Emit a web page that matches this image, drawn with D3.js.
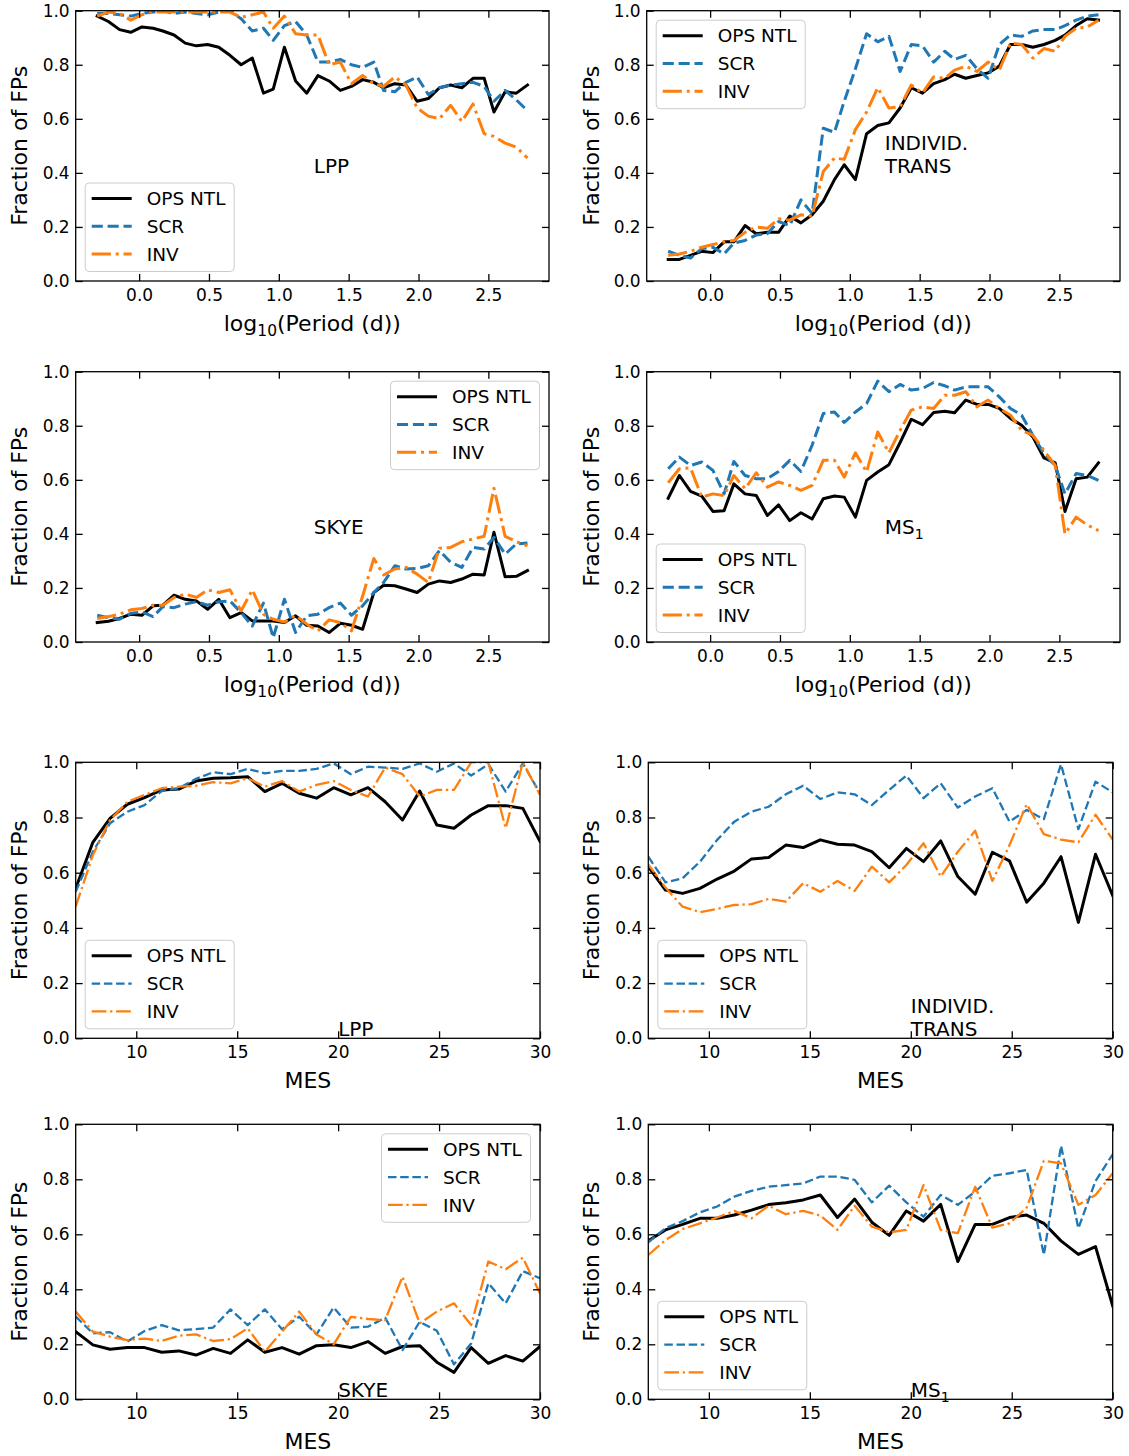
<!DOCTYPE html>
<html>
<head>
<meta charset="utf-8">
<script src="https://cdnjs.cloudflare.com/ajax/libs/d3/7.8.5/d3.min.js"></script>
<style>
body { margin: 0; background: #fff; }
svg { display: block; }
text { font-family: "DejaVu Sans", sans-serif; }
</style>
</head>
<body>
<script>
// bin centres
var logP = [-0.30, -0.22, -0.14, -0.06, 0.02, 0.10, 0.17, 0.25, 0.33, 0.41,
            0.49, 0.57, 0.65, 0.73, 0.81, 0.89, 0.96, 1.04, 1.12, 1.20,
            1.28, 1.36, 1.44, 1.52, 1.60, 1.68, 1.75, 1.83, 1.91, 1.99,
            2.07, 2.15, 2.23, 2.31, 2.39, 2.47, 2.54, 2.62, 2.70, 2.78];
var mes = [7.00, 7.85, 8.70, 9.56, 10.41, 11.26, 12.11, 12.96, 13.81, 14.67,
           15.52, 16.37, 17.22, 18.07, 18.93, 19.78, 20.63, 21.48, 22.33, 23.19,
           24.04, 24.89, 25.74, 26.59, 27.44, 28.30, 29.15, 30.00];

var seriesNames = ["OPS NTL", "SCR", "INV"];
var yTicks = [0, 0.2, 0.4, 0.6, 0.8, 1.0];
var periodTicks = [0, 0.5, 1.0, 1.5, 2.0, 2.5];
var mesTicks = [10, 15, 20, 25, 30];

// fraction of FPs vs log10(period)
var lppP_ops = [0.98,0.96,0.93,0.92,0.94,0.935,0.925,0.91,0.88,0.87,0.875,0.865,0.835,0.80,0.825,0.695,0.71,0.865,0.74,0.695,0.76,0.74,0.705,0.72,0.745,0.735,0.715,0.73,0.725,0.665,0.675,0.715,0.725,0.715,0.75,0.75,0.625,0.70,0.695,0.725];
var lppP_scr = [0.99,0.99,0.985,0.98,0.99,0.995,1.0,0.99,0.995,0.99,0.985,0.995,1.0,0.97,0.925,0.935,0.89,0.945,0.96,0.91,0.81,0.81,0.82,0.80,0.79,0.81,0.705,0.70,0.735,0.755,0.69,0.715,0.725,0.73,0.735,0.72,0.665,0.705,0.67,0.63];
var lppP_inv = [0.98,0.995,0.99,0.965,0.985,0.995,0.995,0.995,0.995,0.995,0.995,0.995,0.995,0.975,0.985,0.995,0.935,0.98,0.915,0.91,0.91,0.80,0.81,0.73,0.76,0.73,0.72,0.755,0.725,0.64,0.61,0.60,0.65,0.59,0.655,0.545,0.535,0.51,0.495,0.455];

var itP_ops = [0.08,0.08,0.095,0.11,0.105,0.145,0.145,0.205,0.175,0.18,0.18,0.24,0.215,0.245,0.295,0.375,0.43,0.375,0.545,0.575,0.585,0.64,0.715,0.695,0.73,0.745,0.765,0.75,0.76,0.77,0.795,0.875,0.875,0.865,0.875,0.89,0.91,0.945,0.97,0.965];
var itP_scr = [0.11,0.095,0.085,0.12,0.125,0.10,0.14,0.15,0.17,0.175,0.22,0.205,0.30,0.25,0.565,0.55,0.665,0.785,0.915,0.885,0.905,0.775,0.875,0.87,0.81,0.85,0.82,0.835,0.785,0.75,0.875,0.91,0.905,0.925,0.93,0.93,0.945,0.965,0.98,0.985];
var itP_inv = [0.095,0.10,0.11,0.125,0.135,0.145,0.15,0.18,0.20,0.195,0.23,0.225,0.245,0.24,0.405,0.455,0.45,0.56,0.625,0.715,0.64,0.645,0.725,0.695,0.755,0.75,0.78,0.795,0.775,0.81,0.78,0.88,0.875,0.825,0.86,0.85,0.905,0.935,0.94,0.965];

var skyeP_ops = [0.072,0.077,0.087,0.103,0.099,0.134,0.136,0.173,0.158,0.152,0.121,0.158,0.09,0.109,0.078,0.078,0.078,0.072,0.097,0.062,0.059,0.035,0.069,0.062,0.047,0.183,0.21,0.208,0.196,0.183,0.214,0.226,0.22,0.233,0.251,0.248,0.406,0.241,0.243,0.264];
var skyeP_scr = [0.099,0.09,0.084,0.106,0.111,0.094,0.131,0.127,0.14,0.149,0.136,0.149,0.152,0.109,0.059,0.144,0.016,0.158,0.035,0.097,0.103,0.127,0.144,0.099,0.134,0.183,0.22,0.282,0.27,0.272,0.282,0.338,0.295,0.276,0.35,0.344,0.387,0.325,0.363,0.366];
var skyeP_inv = [0.087,0.094,0.103,0.119,0.124,0.136,0.136,0.165,0.177,0.165,0.193,0.183,0.193,0.115,0.193,0.103,0.084,0.074,0.099,0.066,0.041,0.082,0.072,0.041,0.17,0.309,0.248,0.27,0.276,0.251,0.22,0.347,0.35,0.371,0.381,0.391,0.569,0.391,0.371,0.356];

var ms1P_ops = [0.532,0.616,0.557,0.54,0.483,0.486,0.585,0.548,0.542,0.468,0.507,0.449,0.478,0.455,0.53,0.54,0.536,0.462,0.598,0.629,0.656,0.738,0.824,0.804,0.849,0.854,0.848,0.895,0.879,0.879,0.864,0.827,0.802,0.759,0.681,0.663,0.483,0.604,0.61,0.663];
var ms1P_scr = [0.641,0.684,0.653,0.666,0.635,0.548,0.668,0.616,0.604,0.604,0.631,0.672,0.631,0.728,0.845,0.851,0.812,0.851,0.882,0.965,0.926,0.953,0.932,0.938,0.96,0.948,0.932,0.944,0.944,0.944,0.907,0.864,0.839,0.765,0.697,0.653,0.548,0.623,0.616,0.598];
var ms1P_inv = [0.589,0.641,0.644,0.536,0.548,0.542,0.616,0.567,0.626,0.573,0.592,0.579,0.561,0.579,0.672,0.672,0.61,0.70,0.629,0.777,0.70,0.783,0.858,0.87,0.864,0.913,0.913,0.926,0.87,0.895,0.864,0.839,0.783,0.765,0.709,0.653,0.40,0.462,0.433,0.412];

// fraction of FPs vs MES
var lppM_ops = [0.543,0.71,0.797,0.848,0.872,0.90,0.903,0.932,0.942,0.944,0.948,0.894,0.924,0.888,0.87,0.908,0.882,0.908,0.857,0.791,0.896,0.773,0.761,0.809,0.843,0.843,0.833,0.713];
var lppM_scr = [0.531,0.676,0.779,0.821,0.845,0.896,0.906,0.94,0.964,0.957,0.976,0.96,0.969,0.969,0.976,0.996,0.957,0.984,0.981,0.976,0.996,0.966,0.996,0.952,0.993,0.894,0.996,0.888];
var lppM_inv = [0.477,0.664,0.791,0.857,0.882,0.906,0.912,0.915,0.928,0.924,0.942,0.912,0.932,0.894,0.918,0.932,0.90,0.876,0.981,0.957,0.876,0.90,0.90,1.0,1.0,0.761,1.0,0.882];

var itM_ops = [0.622,0.537,0.525,0.543,0.577,0.606,0.65,0.655,0.70,0.691,0.719,0.703,0.70,0.676,0.618,0.688,0.64,0.715,0.586,0.522,0.674,0.643,0.493,0.562,0.658,0.42,0.667,0.517];
var itM_scr = [0.658,0.565,0.58,0.64,0.719,0.785,0.821,0.839,0.884,0.915,0.867,0.891,0.884,0.845,0.90,0.952,0.87,0.924,0.836,0.876,0.906,0.785,0.827,0.794,0.993,0.758,0.93,0.891];
var itM_inv = [0.63,0.546,0.477,0.457,0.469,0.483,0.486,0.505,0.495,0.562,0.531,0.57,0.534,0.622,0.565,0.628,0.707,0.586,0.676,0.752,0.57,0.70,0.848,0.74,0.72,0.71,0.81,0.72];

var skyeM_ops = [0.246,0.198,0.182,0.188,0.188,0.171,0.176,0.161,0.185,0.167,0.216,0.171,0.188,0.164,0.195,0.198,0.188,0.21,0.167,0.192,0.195,0.135,0.098,0.188,0.131,0.159,0.139,0.192];
var skyeM_scr = [0.301,0.24,0.244,0.21,0.248,0.27,0.251,0.255,0.261,0.327,0.27,0.327,0.255,0.30,0.236,0.334,0.261,0.264,0.297,0.179,0.282,0.249,0.127,0.203,0.422,0.349,0.466,0.44];
var skyeM_inv = [0.319,0.246,0.228,0.215,0.221,0.212,0.231,0.236,0.212,0.219,0.258,0.173,0.246,0.319,0.236,0.2,0.3,0.292,0.288,0.446,0.276,0.319,0.349,0.27,0.501,0.473,0.515,0.385];

var ms1M_ops = [0.576,0.616,0.636,0.658,0.658,0.67,0.688,0.708,0.715,0.725,0.743,0.661,0.728,0.644,0.596,0.685,0.648,0.709,0.501,0.636,0.636,0.661,0.67,0.64,0.576,0.527,0.555,0.34];
var ms1M_scr = [0.571,0.622,0.648,0.68,0.701,0.737,0.758,0.773,0.779,0.785,0.81,0.81,0.798,0.716,0.777,0.716,0.664,0.743,0.707,0.755,0.813,0.822,0.834,0.525,0.922,0.622,0.794,0.891];
var ms1M_inv = [0.525,0.579,0.619,0.64,0.661,0.685,0.658,0.704,0.673,0.685,0.668,0.616,0.704,0.628,0.607,0.616,0.779,0.616,0.604,0.773,0.624,0.64,0.697,0.867,0.858,0.707,0.743,0.822];

var colors = ["#000000", "#1f77b4", "#ff7f0e"];

var svg = d3.select("body").append("svg")
    .attr("width", 1129)
    .attr("height", 1456);

// matplotlib style dash patterns, scaled by line width
function dashFor(k, lw) {
  if (k == 1) return [3.7 * lw, 1.6 * lw].join(",");
  if (k == 2) return [6.4 * lw, 1.6 * lw, 1 * lw, 1.6 * lw].join(",");
  return null;
}

var periodDomain = [-0.454, 2.934];
var mesDomain = [7, 30];

var panels = [
  {left: 75.7, right: 549, top: 10.7, bottom: 281, xs: logP, xDomain: periodDomain, xTicks: periodTicks, fmt: d3.format(".1f"), xlab: "period",
   data: [lppP_ops, lppP_scr, lppP_inv], lw: 3, legend: "lower left", note: ["LPP"], noteAt: [1.25, 0.4]},
  {left: 646.7, right: 1120, top: 10.7, bottom: 281, xs: logP, xDomain: periodDomain, xTicks: periodTicks, fmt: d3.format(".1f"), xlab: "period",
   data: [itP_ops, itP_scr, itP_inv], lw: 3, legend: "upper left", note: ["INDIVID.", "TRANS"], noteAt: [1.25, 0.4]},
  {left: 75.7, right: 549, top: 371.7, bottom: 642, xs: logP, xDomain: periodDomain, xTicks: periodTicks, fmt: d3.format(".1f"), xlab: "period",
   data: [skyeP_ops, skyeP_scr, skyeP_inv], lw: 3, legend: "upper right", note: ["SKYE"], noteAt: [1.25, 0.4]},
  {left: 646.7, right: 1120, top: 371.7, bottom: 642, xs: logP, xDomain: periodDomain, xTicks: periodTicks, fmt: d3.format(".1f"), xlab: "period",
   data: [ms1P_ops, ms1P_scr, ms1P_inv], lw: 3, legend: "lower left", note: ["MS"], sub: "1", noteAt: [1.25, 0.4]},
  {left: 75.7, right: 540, top: 762.3, bottom: 1038.3, xs: mes, xDomain: mesDomain, xTicks: mesTicks, fmt: d3.format("d"), xlab: "MES",
   data: [lppM_ops, lppM_scr, lppM_inv], lw: 2.3, legend: "lower left", note: ["LPP"], noteAt: [20, 0.01]},
  {left: 648.3, right: 1112.7, top: 762.3, bottom: 1038.3, xs: mes, xDomain: mesDomain, xTicks: mesTicks, fmt: d3.format("d"), xlab: "MES",
   data: [itM_ops, itM_scr, itM_inv], lw: 2.3, legend: "lower left", note: ["INDIVID.", "TRANS"], noteAt: [20, 0.01]},
  {left: 75.7, right: 540, top: 1124.3, bottom: 1399.3, xs: mes, xDomain: mesDomain, xTicks: mesTicks, fmt: d3.format("d"), xlab: "MES",
   data: [skyeM_ops, skyeM_scr, skyeM_inv], lw: 2.3, legend: "upper right", note: ["SKYE"], noteAt: [20, 0.01]},
  {left: 648.3, right: 1112.7, top: 1124.3, bottom: 1399.3, xs: mes, xDomain: mesDomain, xTicks: mesTicks, fmt: d3.format("d"), xlab: "MES",
   data: [ms1M_ops, ms1M_scr, ms1M_inv], lw: 2.3, legend: "lower left", note: ["MS"], sub: "1", noteAt: [20, 0.01]}
];

panels.forEach(function(p, n) {
  var x = d3.scaleLinear().domain(p.xDomain).range([p.left, p.right]);
  var y = d3.scaleLinear().domain([0, 1]).range([p.bottom, p.top]);
  var g = svg.append("g");

  var clipId = "clip" + n;
  svg.append("clipPath").attr("id", clipId)
    .append("rect")
      .attr("x", p.left).attr("y", p.top)
      .attr("width", p.right - p.left).attr("height", p.bottom - p.top);

  // the three curves
  var line = d3.line()
    .x(function(d, i) { return x(p.xs[i]); })
    .y(function(d) { return y(d); });
  p.data.forEach(function(vals, k) {
    g.append("path")
      .datum(vals)
      .attr("d", line)
      .attr("clip-path", "url(#" + clipId + ")")
      .attr("fill", "none")
      .attr("stroke", colors[k])
      .attr("stroke-width", k == 0 ? 3 : p.lw)
      .attr("stroke-dasharray", dashFor(k, p.lw))
      .attr("stroke-linejoin", "round")
      .attr("stroke-linecap", k == 0 ? "square" : "butt");
  });

  // axes, ticks pointing in on all four sides
  var axes = [
    g.append("g").attr("transform", "translate(0," + p.bottom + ")")
      .call(d3.axisBottom(x).tickValues(p.xTicks).tickFormat(p.fmt).tickSizeInner(-7).tickSizeOuter(0).tickPadding(8)),
    g.append("g").attr("transform", "translate(0," + p.top + ")")
      .call(d3.axisTop(x).tickValues(p.xTicks).tickFormat("").tickSizeInner(-7).tickSizeOuter(0)),
    g.append("g").attr("transform", "translate(" + p.left + ",0)")
      .call(d3.axisLeft(y).tickValues(yTicks).tickFormat(d3.format(".1f")).tickSizeInner(-7).tickSizeOuter(0).tickPadding(6)),
    g.append("g").attr("transform", "translate(" + p.right + ",0)")
      .call(d3.axisRight(y).tickValues(yTicks).tickFormat("").tickSizeInner(-7).tickSizeOuter(0))
  ];
  axes.forEach(function(a) {
    a.attr("font-size", 17).attr("font-family", "DejaVu Sans, sans-serif");
    a.select(".domain").remove();
    a.selectAll(".tick line").attr("stroke-width", 1.3);
    a.selectAll(".tick text").attr("fill", "#000");
  });

  g.append("rect")
    .attr("x", p.left).attr("y", p.top)
    .attr("width", p.right - p.left).attr("height", p.bottom - p.top)
    .attr("fill", "none")
    .attr("stroke", "#000")
    .attr("stroke-width", 1.3);

  // x label
  var xl = g.append("text")
    .attr("x", (p.left + p.right) / 2)
    .attr("y", p.bottom + 50)
    .attr("text-anchor", "middle")
    .style("font-size", "22px");
  if (p.xlab == "period") {
    xl.append("tspan").text("log");
    xl.append("tspan").attr("dy", 5).style("font-size", "15.5px").text("10");
    xl.append("tspan").attr("dy", -5).text("(Period (d))");
  } else {
    xl.text(p.xlab);
  }

  // y label
  var ylx = p.left < 300 ? 27 : 599;
  g.append("text")
    .attr("transform", "translate(" + ylx + "," + ((p.top + p.bottom) / 2) + ") rotate(-90)")
    .attr("text-anchor", "middle")
    .style("font-size", "22px")
    .text("Fraction of FPs");

  // panel name
  var nx = x(p.noteAt[0]), ny = y(p.noteAt[1]);
  p.note.forEach(function(s, i) {
    var t = g.append("text")
      .attr("x", nx)
      .attr("y", ny - (p.note.length - 1 - i) * 23)
      .style("font-size", "20px")
      .text(s);
    if (p.sub) {
      t.append("tspan").attr("dy", 5).style("font-size", "14px").text(p.sub);
    }
  });

  // legend
  var lw = 149, lh = 88.5, off = 9.5;
  var lx = p.legend.indexOf("right") >= 0 ? p.right - off - lw : p.left + off;
  var ly = p.legend.indexOf("upper") >= 0 ? p.top + off : p.bottom - off - lh;
  var leg = g.append("g");
  leg.append("rect")
    .attr("x", lx).attr("y", ly)
    .attr("width", lw).attr("height", lh)
    .attr("rx", 4)
    .attr("fill", "#fff")
    .attr("fill-opacity", 0.8)
    .attr("stroke", "#cccccc")
    .attr("stroke-width", 1);
  seriesNames.forEach(function(name, k) {
    var yy = ly + 15.5 + k * 27.8;
    leg.append("line")
      .attr("x1", lx + 6.5).attr("x2", lx + 46.5)
      .attr("y1", yy).attr("y2", yy)
      .attr("stroke", colors[k])
      .attr("stroke-width", k == 0 ? 3 : p.lw)
      .attr("stroke-dasharray", dashFor(k, p.lw))
      .attr("stroke-linecap", "butt");
    leg.append("text")
      .attr("x", lx + 61.5)
      .attr("y", yy)
      .attr("dy", "0.36em")
      .style("font-size", "18.5px")
      .text(name);
  });
});
</script>
</body>
</html>
